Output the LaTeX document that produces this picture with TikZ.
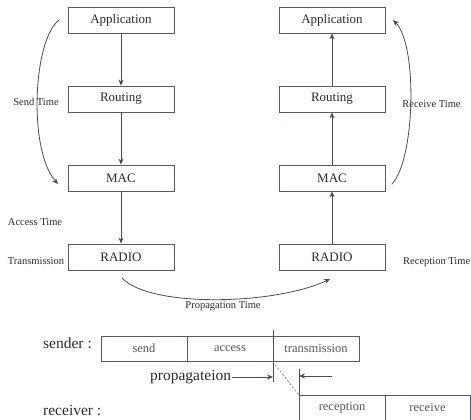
\documentclass[tikz,border=0pt]{standalone}
\usepackage{fontspec}
\setmainfont{Liberation Serif}
\usetikzlibrary{arrows.meta}
\definecolor{boxc}{HTML}{55558C}
\definecolor{arrc}{HTML}{45457F}
\definecolor{txt}{HTML}{2A2A2A}
\tikzset{
  layer/.style={draw=boxc, line width=0.8pt, minimum width=106pt, minimum height=26pt, inner sep=0pt, text=txt, font=\fontsize{13}{14}\selectfont},
  seg/.style={draw=boxc, line width=0.8pt, minimum width=86pt, minimum height=25pt, inner sep=0pt, text=txt!80, font=\fontsize{12.5}{14}\selectfont},
  lbl/.style={text=txt, inner sep=0pt, font=\fontsize{10.5}{12}\selectfont},
  big/.style={text=txt, inner sep=0pt, font=\fontsize{15.5}{17}\selectfont},
  conn/.style={draw=arrc, line width=0.8pt, -{Stealth[length=6pt,width=5pt]}},
  plain/.style={draw=arrc, line width=0.8pt},
}
\begin{document}
\begin{tikzpicture}[x=1pt,y=-1pt]
\useasboundingbox (0,0) rectangle (471,420);
% left stack
\node[layer] (la) at (121,20) {Application};
\node[layer] (lr) at (121,99) {Routing};
\node[layer] (lm) at (121,178) {MAC};
\node[layer] (lx) at (121,257) {RADIO};
% right stack
\node[layer] (ra) at (332,20) {Application};
\node[layer] (rr) at (332,99) {Routing};
\node[layer] (rm) at (332,178) {MAC};
\node[layer] (rx) at (332,257) {RADIO};
\draw[conn] (la) -- (lr);
\draw[conn] (lr) -- (lm);
\draw[conn] (lm) -- (lx);
\draw[conn] (rx) -- (rm);
\draw[conn] (rm) -- (rr);
\draw[conn] (rr) -- (ra);
% curves
\coordinate (s0) at (59,20);
\coordinate (s1) at (58,184);
\draw[conn] (s0) .. controls (33,40) and (28,150) .. (s1);
\coordinate (r0) at (392,184);
\coordinate (r1) at (393,20);
\draw[conn] (r0) .. controls (415,160) and (418,45) .. (r1);
\coordinate (p0) at (122,278);
\coordinate (p1) at (330,279);
\draw[conn] (p0) .. controls (150,308) and (275,305) .. (p1);
% labels
\node[lbl] (tsend) at (36,102) {Send Time};
\node[lbl] (trecv) at (431.5,104) {Receive Time};
\node[lbl] (tacc) at (35,222) {Access Time};
\node[lbl] (ttr) at (36,261) {Transmission};
\node[lbl, anchor=west] (treck) at (403,262) {Reception Time};
\node[lbl] (tprop) at (223,306) {Propagation Time};
% timeline
\node[big, anchor=west] (sender) at (43,343) {sender :};
\node[big, anchor=west] (receiver) at (43,410) {receiver :};
\node[seg] (bsend) at (144,348.5) {send};
\node[seg] (bacc) at (230,348.5) {access};
\node[seg] (btr) at (316,348.5) {transmission};
\node[seg, minimum width=86pt] (brec) at (342,407.5) {reception};
\node[seg, minimum width=85pt] (brcv) at (427.5,407.5) {receive};
\coordinate (d0) at (273,330);
\coordinate (d1) at (273,382);
\draw[plain] (d0) -- (d1);
\coordinate (e0) at (299,369);
\coordinate (e1) at (299,395);
\draw[plain] (e0) -- (e1);
\node[big, anchor=west] (tpg) at (150,377) {propagateion};
\coordinate (pa) at (273,377);
\path (tpg.east) ++(1,0) coordinate (pg0);
\draw[conn] (pg0) -- (pa);
\coordinate (pb0) at (332,376);
\coordinate (pb1) at (299,376);
\draw[conn] (pb0) -- (pb1);
\draw[draw=boxc!70, line width=0.8pt, dash pattern=on 2pt off 2pt] (btr.south west) -- (brec.north west);
\end{tikzpicture}
\end{document}
